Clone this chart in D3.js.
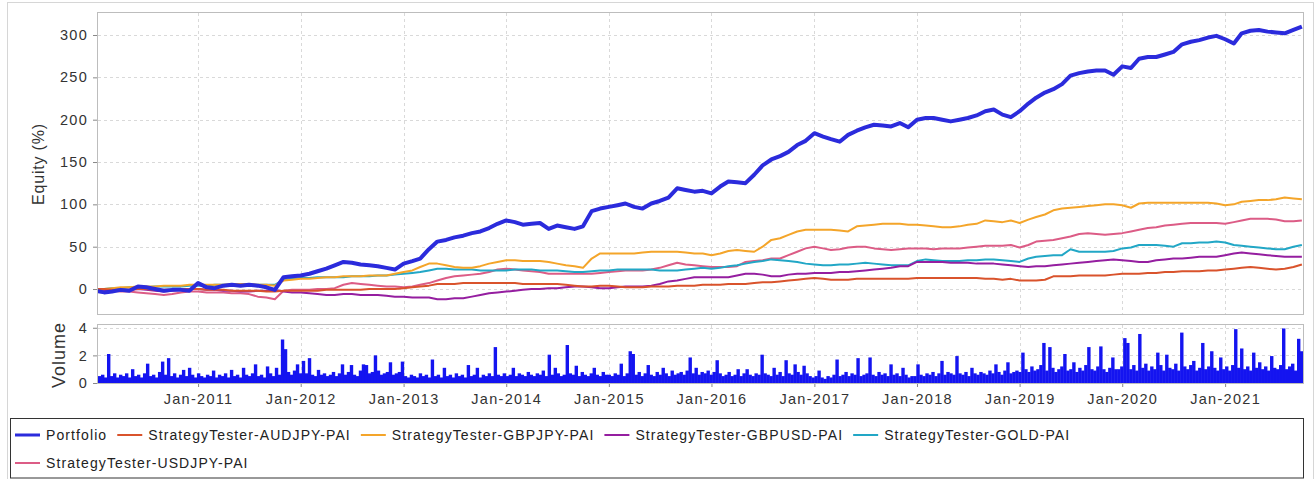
<!DOCTYPE html>
<html>
<head>
<meta charset="utf-8">
<script src="https://cdn.jsdelivr.net/npm/d3@7"></script>
<style>
  body { margin: 0; background: #fff; }
  svg { display: block; font-family: "Liberation Sans", Arial, sans-serif; }
</style>
</head>
<body>
<svg id="chart" width="1316" height="479"></svg>
<script>
// monthly samples Jan-2010 .. Oct-2021 (142 points)
var months = d3.timeMonth.range(new Date(2010, 0, 1), new Date(2021, 10, 1));

var seriesNames = ["Portfolio", "StrategyTester-AUDJPY-PAI", "StrategyTester-GBPJPY-PAI",
                   "StrategyTester-GBPUSD-PAI", "StrategyTester-GOLD-PAI", "StrategyTester-USDJPY-PAI"];
var seriesColors = ["#2b2bdc", "#d9532c", "#f4a52a", "#951ea0", "#22a7c6", "#dc5c86"];

var portfolio = [
  -2,-4,-3,-1,-2,3,2,0,-2,-1,-1,-2,
  7,2,1,4,5,4,5,4,2,-1,14,15,
  16,18,21,24,28,32,31,29,28,27,25,23,
  30,33,36,47,56,58,61,63,66,68,72,77,
  81,79,76,77,78,71,75,73,71,74,92,95,
  97,99,101,97,95,101,104,108,119,117,115,116,
  113,121,127,126,125,135,146,153,157,162,170,175,
  184,180,177,174,182,187,191,194,193,192,196,191,
  200,202,202,200,198,200,202,205,210,212,206,203,
  210,219,226,232,236,242,252,255,257,258,258,253,
  263,261,272,274,274,277,280,289,292,294,297,299,
  295,290,302,305,306,304,303,302,306,310];

var audjpy = [
  0,0,-1,-1,-1,0,0,-1,-1,-1,0,0,
  0,-1,-1,-1,-2,-2,-2,-2,-3,-3,-2,-2,
  -2,-2,-2,-1,-1,-1,-1,-1,0,0,0,0,
  1,2,3,4,6,6,6,7,7,7,7,7,
  7,7,6,6,6,6,6,5,4,3,3,4,
  4,3,2,2,2,3,3,3,4,4,4,5,
  5,5,6,6,6,7,8,8,9,10,11,12,
  13,12,11,11,11,12,12,12,12,12,12,12,
  13,13,13,13,13,13,13,13,12,12,11,12,
  10,10,10,11,15,15,15,16,16,16,16,17,
  18,18,18,19,19,20,20,21,21,21,22,22,
  23,24,25,26,25,24,23,24,26,29];

var gbpjpy = [
  0,0,1,2,2,3,3,3,4,4,4,5,
  5,5,5,5,6,6,6,5,5,4,10,11,
  12,12,13,14,14,15,15,15,16,16,16,18,
  20,22,26,30,30,28,26,25,25,27,30,32,
  34,34,33,33,33,32,30,28,27,25,36,42,
  42,42,42,42,43,44,44,44,44,43,42,42,
  40,42,45,46,45,44,50,58,60,64,68,70,
  70,70,70,69,68,74,75,76,77,77,77,76,
  76,75,74,73,73,74,76,77,81,80,79,81,
  78,82,85,88,93,95,96,97,98,99,100,100,
  99,96,101,102,102,102,102,102,102,102,102,101,
  99,100,103,104,105,105,106,108,107,106];

var gbpusd = [
  0,-1,-2,-2,-1,0,-1,-2,-3,-2,-1,0,
  0,-1,-1,-2,-2,-3,-3,-2,-2,-1,-3,-4,
  -4,-5,-6,-7,-7,-6,-6,-7,-7,-7,-8,-9,
  -9,-10,-10,-10,-12,-12,-11,-11,-9,-7,-5,-4,
  -3,-2,-1,0,0,1,1,2,3,3,2,1,
  1,2,3,3,3,4,6,9,10,12,14,14,
  14,14,14,16,18,18,17,15,15,17,18,18,
  19,19,19,20,20,21,22,23,24,25,27,27,
  32,32,32,32,31,31,31,30,30,30,29,28,
  27,26,27,27,28,29,30,31,32,33,34,35,
  34,33,32,32,34,35,36,36,37,38,38,38,
  40,42,43,42,41,40,39,38,38,38];

var gold = [
  0,0,1,1,2,2,2,3,3,3,3,4,
  4,4,5,5,5,5,5,5,5,5,11,12,
  13,13,14,14,14,14,15,15,15,16,16,17,
  18,19,20,22,24,24,23,23,23,22,22,22,
  22,23,23,23,22,22,22,21,20,20,21,22,
  22,23,23,23,23,23,22,22,22,23,24,25,
  24,25,27,28,30,32,33,35,34,33,32,30,
  29,28,28,29,29,30,31,30,29,28,28,28,
  33,35,34,33,33,33,34,34,35,35,34,33,
  32,36,38,39,40,40,47,44,44,44,44,45,
  48,49,52,52,52,51,50,54,54,55,55,56,
  55,52,51,50,49,48,47,47,50,52];

var usdjpy = [
  0,-1,-2,-3,-3,-4,-5,-6,-7,-6,-4,-3,
  -3,-4,-4,-4,-5,-5,-6,-9,-10,-12,-2,-1,
  -1,-1,0,0,1,5,7,6,5,4,3,3,
  2,3,5,7,10,13,15,16,17,18,20,23,
  24,23,22,21,20,18,18,18,18,18,18,19,
  20,21,22,22,22,23,25,28,31,29,28,27,
  26,26,26,27,32,33,34,36,36,40,44,48,
  50,48,46,47,49,50,50,48,47,46,47,48,
  48,48,47,48,48,48,49,50,51,51,51,52,
  49,52,56,57,58,60,62,65,66,65,64,65,
  66,68,70,72,73,75,76,77,78,78,78,78,
  77,79,81,83,83,83,82,80,80,81];

// traded volume, evenly spaced bins across the date range
var volume = [
  0.5,0.6,0.4,2.1,0.5,0.7,0.4,0.6,0.5,0.7,0.4,1.0,0.5,0.6,0.4,0.7,1.4,0.5,0.6,0.4,0.8,1.55,0.6,1.8,0.5,0.7,0.4,0.6,0.95,0.5,1.1,0.6,0.4,0.7,
  0.5,0.4,0.6,0.5,0.9,0.4,0.6,0.5,0.7,0.4,0.95,0.5,0.6,0.4,1.1,0.6,0.5,0.7,1.35,0.5,0.6,0.4,1.2,0.7,0.5,1.1,0.6,3.15,2.45,0.8,0.6,0.9,1.35,0.7,
  1.6,0.7,1.8,0.6,0.5,0.95,0.6,0.7,0.5,0.6,0.8,0.5,0.7,1.35,0.6,0.8,1.3,0.6,0.5,0.9,1.35,1.3,0.7,0.8,2.0,0.9,0.6,0.7,0.8,1.5,0.6,0.7,0.8,1.55,
  0.5,0.4,0.6,0.5,0.4,0.7,0.5,0.6,0.4,1.7,0.5,0.6,0.4,1.1,0.5,0.6,0.4,0.7,0.5,0.6,0.4,1.3,0.5,0.6,1.1,0.4,0.6,0.5,0.7,0.5,2.6,0.6,0.5,0.7,
  0.5,0.6,1.1,0.5,0.7,0.6,0.5,0.8,0.6,0.5,0.7,0.6,0.9,0.5,2.05,0.6,1.1,0.7,0.5,0.6,2.75,0.7,0.6,1.25,0.5,0.8,0.6,0.5,0.7,1.1,0.6,0.5,0.8,0.6,
  0.6,0.5,0.7,0.6,1.4,0.5,0.7,2.3,2.1,0.6,0.8,0.5,0.7,1.3,0.6,0.5,0.8,0.6,1.1,0.7,0.5,0.9,0.6,0.7,0.8,0.6,0.9,1.85,0.7,1.1,0.6,0.8,0.7,0.9,
  0.6,0.8,1.65,0.7,0.5,0.6,0.8,0.5,0.6,1.0,0.5,0.7,1.0,0.6,0.5,0.7,0.6,2.05,0.7,0.6,0.5,1.1,0.6,0.8,0.5,1.65,0.7,0.6,1.35,0.8,0.6,1.25,0.7,0.5,
  0.4,0.5,0.9,0.4,0.3,0.5,0.4,0.6,1.7,0.5,0.6,0.8,0.5,0.7,0.6,1.8,0.5,0.6,0.7,1.85,0.6,0.5,0.8,0.6,0.7,0.5,1.35,0.6,0.7,0.5,1.1,0.6,0.4,0.5,
  0.5,1.35,0.6,0.5,0.7,0.6,0.8,0.5,0.7,1.6,0.6,0.8,0.7,0.6,1.95,0.7,0.6,0.8,0.5,1.1,0.7,0.6,0.8,0.7,0.6,0.9,0.7,1.35,0.8,0.6,0.9,1.5,0.7,0.8,
  0.9,0.8,2.2,1.0,0.8,1.2,0.9,1.0,1.3,2.9,0.9,2.6,1.1,0.8,1.0,1.2,2.1,0.9,1.0,1.5,0.8,1.1,0.9,1.3,2.6,1.0,0.9,1.2,2.65,1.0,0.8,1.1,1.85,1.0,
  1.0,1.2,3.25,2.9,1.0,1.3,0.9,3.55,1.1,1.4,0.9,1.2,1.0,2.2,1.3,0.9,2.05,1.1,1.0,1.4,0.9,3.65,1.2,1.0,1.3,1.6,0.9,1.1,2.9,1.0,1.2,2.3,1.1,0.9,
  1.85,1.0,1.2,0.9,1.3,3.9,1.1,2.5,1.0,1.2,0.9,2.2,1.1,1.5,1.0,1.2,0.9,1.95,1.1,1.0,1.3,3.95,1.0,1.2,1.4,0.9,3.2,2.3];

var equityTicks = [0, 50, 100, 150, 200, 250, 300];
var volumeTicks = [0, 2, 4];
var tickYears = [2011, 2012, 2013, 2014, 2015, 2016, 2017, 2018, 2019, 2020, 2021];

var allSeries = [portfolio, audjpy, gbpjpy, gbpusd, gold, usdjpy];

var svg = d3.select("#chart");
var left = 98, right = 1303, mainTop = 13, mainBottom = 314, volTop = 325, volBottom = 383;

svg.append("rect").attr("width", 1316).attr("height", 479).attr("fill", "#fff");
svg.append("rect").attr("x", 7.5).attr("y", 2.5).attr("width", 1306).attr("height", 490)
   .attr("fill", "none").attr("stroke", "#d6d6d6");

var x = d3.scaleTime().domain([new Date(2010, 0, 10), new Date(2021, 9, 5)]).range([left, right]);
var yMain = d3.scaleLinear().domain([-29.5, 326]).range([mainBottom, mainTop]);
var yVol = d3.scaleLinear().domain([0, 4.2]).range([volBottom, volTop]);
var volBand = d3.scaleBand().domain(d3.range(volume.length)).range([left, right]).padding(0);

var tickDates = tickYears.map(function(y) { return new Date(y, 0, 1); });

// dashed grid lines
function grid(top, bottom, yScale, ticks) {
  var g = svg.append("g").attr("stroke", "#d9d9d9").attr("stroke-dasharray", "3,3");
  g.selectAll(".h").data(ticks).enter().append("line")
    .attr("x1", left).attr("x2", right)
    .attr("y1", function(d) { return Math.round(yScale(d)) + 0.5; })
    .attr("y2", function(d) { return Math.round(yScale(d)) + 0.5; });
  g.selectAll(".v").data(tickDates).enter().append("line")
    .attr("y1", top).attr("y2", bottom)
    .attr("x1", function(d) { return Math.round(x(d)) + 0.5; })
    .attr("x2", function(d) { return Math.round(x(d)) + 0.5; });
}
grid(mainTop, mainBottom, yMain, equityTicks);
grid(volTop, volBottom, yVol, [2, 4]);

svg.append("clipPath").attr("id", "clipMain").append("rect")
   .attr("x", left).attr("y", mainTop).attr("width", right - left).attr("height", mainBottom - mainTop);

// equity lines, portfolio drawn last so it sits on top
var line = d3.line()
  .x(function(d, i) { return x(months[i]); })
  .y(function(d) { return yMain(d); });

var lineG = svg.append("g").attr("clip-path", "url(#clipMain)");
for (var s = allSeries.length - 1; s >= 0; s--) {
  lineG.append("path")
    .attr("d", line(allSeries[s]))
    .attr("fill", "none")
    .attr("stroke", seriesColors[s])
    .attr("stroke-width", s === 0 ? 4 : 2)
    .attr("stroke-linejoin", "round");
}

// volume bars
svg.append("g").selectAll("rect").data(volume).enter().append("rect")
  .attr("x", function(d, i) { return volBand(i); })
  .attr("width", volBand.bandwidth() + 0.4)
  .attr("y", function(d) { return yVol(d); })
  .attr("height", function(d) { return yVol(0) - yVol(d); })
  .attr("fill", "#1414f0");

// plot borders
svg.append("rect").attr("x", left - 0.5).attr("y", mainTop - 0.5)
   .attr("width", right - left + 1).attr("height", mainBottom - mainTop + 1)
   .attr("fill", "none").attr("stroke", "#bdbdbd");
svg.append("rect").attr("x", left - 0.5).attr("y", volTop - 0.5)
   .attr("width", right - left + 1).attr("height", volBottom - volTop + 1)
   .attr("fill", "none").attr("stroke", "#bdbdbd");

function styleAxis(g) {
  g.select(".domain").remove();
  g.selectAll(".tick line").attr("stroke", "#888");
  g.selectAll(".tick text").attr("fill", "#333")
    .style("font-size", "14.5px").style("letter-spacing", "1.3px");
}

svg.append("g").attr("transform", "translate(" + (left - 1) + ",0)")
  .call(d3.axisLeft(yMain).tickValues(equityTicks).tickSize(4).tickPadding(5))
  .call(styleAxis);

svg.append("g").attr("transform", "translate(" + (left - 1) + ",0)")
  .call(d3.axisLeft(yVol).tickValues(volumeTicks).tickFormat(d3.format("d")).tickSize(4).tickPadding(5))
  .call(styleAxis);

svg.append("g").attr("transform", "translate(0," + (volBottom + 1) + ")")
  .call(d3.axisBottom(x).tickValues(tickDates).tickFormat(d3.timeFormat("Jan-%Y")).tickSize(3).tickPadding(7))
  .call(styleAxis);

svg.append("text").attr("transform", "translate(44,164) rotate(-90)")
  .attr("text-anchor", "middle").attr("fill", "#333")
  .style("font-size", "16px").style("letter-spacing", "0.8px").text("Equity (%)");
svg.append("text").attr("transform", "translate(65,355) rotate(-90)")
  .attr("text-anchor", "middle").attr("fill", "#333")
  .style("font-size", "18px").style("letter-spacing", "1px").text("Volume");

// legend
svg.append("rect").attr("x", 10.5).attr("y", 418.5).attr("width", 1293).attr("height", 59.5)
   .attr("fill", "#fff").attr("stroke", "#333");

var lx = 15, row = 0;
seriesNames.forEach(function(name, i) {
  var cy = 435 + row * 28;
  var t = svg.append("text").attr("fill", "#222")
    .style("font-size", "14px").style("letter-spacing", "1.1px").text(name);
  var w = t.node().getComputedTextLength();
  if (lx + 31 + w > 1300) { row++; lx = 15; cy = 435 + row * 28; }
  t.attr("x", lx + 31).attr("y", cy + 5);
  svg.append("line").attr("x1", lx).attr("x2", lx + 25).attr("y1", cy).attr("y2", cy)
    .attr("stroke", seriesColors[i]).attr("stroke-width", i === 0 ? 3 : 2);
  lx += 31 + w + 10;
});
</script>
</body>
</html>
